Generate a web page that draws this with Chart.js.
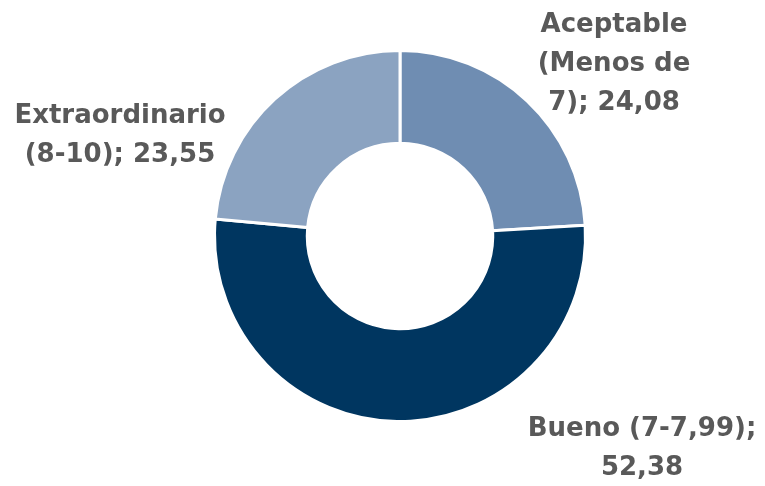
<!DOCTYPE html>
<html>
<head>
<meta charset="utf-8">
<script src="https://cdn.jsdelivr.net/npm/chart.js@4"></script>
<style>
  html, body { margin: 0; padding: 0; background: #ffffff; }
  #wrap { width: 765px; height: 486px; }
</style>
</head>
<body>
<div id="wrap"><canvas id="notasChart" width="765" height="486"></canvas></div>
<script>
const categories = ['Aceptable (Menos de 7)', 'Bueno (7-7,99)', 'Extraordinario (8-10)'];
const values = [24.08, 52.38, 23.55];
const colors = ['#6f8db2', '#003660', '#8ba3c1'];
// label text split in lines as in the picture
const labelLines = [
    ['Aceptable', '(Menos de', '7); 24,08'],
    ['Bueno (7-7,99);', '52,38'],
    ['Extraordinario', '(8-10); 23,55']
];
const labelPos = [
    { x: 614, y: 25 },
    { x: 642, y: 429 },
    { x: 120, y: 116 }
];

// draws the outside labels
const outsideLabels = {
    id: 'outsideLabels',
    afterDraw(chart) {
        const ctx = chart.ctx;
        ctx.save();
        ctx.font = 'bold 26px "DejaVu Sans", sans-serif';
        ctx.fillStyle = '#595959';
        ctx.textAlign = 'center';
        ctx.textBaseline = 'middle';
        labelLines.forEach((lines, i) => {
            lines.forEach((line, j) => {
                ctx.fillText(line, labelPos[i].x, labelPos[i].y + j * 39);
            });
        });
        ctx.restore();
    }
};

const ctx = document.getElementById('notasChart').getContext('2d');
new Chart(ctx, {
    type: 'doughnut',
    data: {
        labels: categories,
        datasets: [{
            data: values,
            backgroundColor: colors,
            borderColor: '#ffffff',
            borderWidth: 3
        }]
    },
    options: {
        responsive: false,
        animation: false,
        cutout: '50%',
        layout: {
            padding: { top: 49, bottom: 63, left: 213, right: 178 }
        },
        plugins: {
            legend: { display: false },
            tooltip: { enabled: false }
        }
    },
    plugins: [outsideLabels]
});
</script>
</body>
</html>
